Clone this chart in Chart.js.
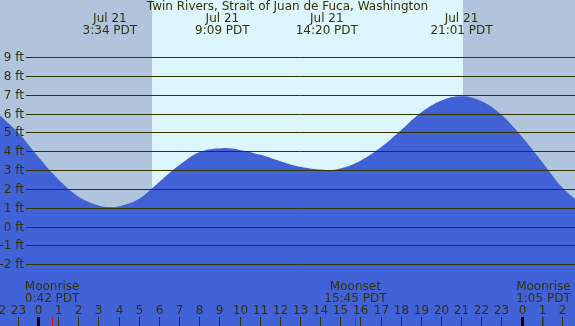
<!DOCTYPE html>
<html>
<head>
<meta charset="utf-8">
<script src="https://cdn.jsdelivr.net/npm/chart.js@4"></script>
<style>
html,body{margin:0;padding:0;background:#b0c4de;}
canvas{display:block;}
</style>
</head>
<body>
<canvas id="c" width="575" height="326"></canvas>
<script>
// ---- data ----
const title = 'Twin Rivers, Strait of Juan de Fuca, Washington';
// hours since midnight Jul 21 (PDT), tide height in feet
const tideHours = [-1.89, -1, 0, 1, 2, 3, 3.567, 4, 5, 6, 7, 8, 9.15, 10, 11, 12, 13, 14.333, 15, 16, 17, 18, 19, 20, 21.017, 22, 23, 24, 25, 26, 26.65];
const tideFeet  = [5.9, 5.0, 3.72, 2.52, 1.6, 1.12, 1.04, 1.07, 1.47, 2.35, 3.25, 3.95, 4.16, 4.07, 3.82, 3.48, 3.17, 3.0, 3.08, 3.5, 4.2, 5.1, 6.04, 6.68, 6.92, 6.66, 5.93, 4.78, 3.46, 2.1, 1.47];
const extremeHours  = [3.567, 9.15, 14.333, 21.017];
const extremeDates  = ['Jul 21', 'Jul 21', 'Jul 21', 'Jul 21'];
const extremeTimes  = ['3:34 PDT', '9:09 PDT', '14:20 PDT', '21:01 PDT'];
const yTickValues   = [-2, -1, 0, 1, 2, 3, 4, 5, 6, 7, 8, 9];
const moonHours     = [0.7, 15.75, 25.083];
const moonNames     = ['Moonrise', 'Moonset', 'Moonrise'];
const moonTimes     = ['0:42 PDT', '15:45 PDT', '1:05 PDT'];
const midnightHours = [0, 24];
const sunriseHour = 5.66;
const sunsetHour  = 21.1;
const xMin = -1.886, xMax = 26.65;
const yMin = -5.27, yMax = 12.02;

// ---- styles ----
const FONT = '12px "DejaVu Sans"';
const TEXT = '#333300';
const NIGHT = '#b0c4de';
const DAY = '#ddf6fd';
const WATER = '#4161d6';

const decor = {
  id: 'decor',
  beforeDraw(chart) {
    const ctx = chart.ctx, xs = chart.scales.x;
    ctx.save();
    ctx.fillStyle = NIGHT;
    ctx.fillRect(0, 0, chart.width, chart.height);
    const a = Math.round(xs.getPixelForValue(sunriseHour));
    const b = Math.round(xs.getPixelForValue(sunsetHour));
    ctx.fillStyle = DAY;
    ctx.fillRect(a, 0, b - a, chart.height);
    ctx.restore();
  },
  afterDatasetsDraw(chart) {
    const ctx = chart.ctx, xs = chart.scales.x, ys = chart.scales.y;
    ctx.save();
    ctx.font = FONT;
    ctx.fillStyle = TEXT;
    ctx.strokeStyle = TEXT;
    ctx.lineWidth = 1;
    ctx.textBaseline = 'middle';
    ctx.textAlign = 'right';
    yTickValues.forEach(v => {
      const y = Math.round(ys.getPixelForValue(v)) + 0.5;
      ctx.beginPath();
      ctx.moveTo(26, y);
      ctx.lineTo(chart.width, y);
      ctx.stroke();
      ctx.fillText(v + ' ft', 24, y);
    });
    ctx.textAlign = 'center';
    ctx.fillText(title, chart.width / 2, 7);
    extremeHours.forEach((h, i) => {
      const x = xs.getPixelForValue(h);
      ctx.fillText(extremeDates[i], x, 18.5);
      ctx.fillText(extremeTimes[i], x, 31);
    });
    for (let h = Math.ceil(xMin) - 1; h <= Math.floor(xMax) + 1; h++) {
      const x = Math.round(xs.getPixelForValue(h)) + 0.5;
      ctx.beginPath();
      ctx.moveTo(x, 317);
      ctx.lineTo(x, chart.height);
      ctx.stroke();
      ctx.fillText(String(((h % 24) + 24) % 24), x, 310.5);
    }
    ctx.fillStyle = '#000000';
    midnightHours.forEach(h => {
      const x = Math.round(xs.getPixelForValue(h));
      ctx.fillRect(x - 1, 317, 3, chart.height - 317);
    });
    moonHours.forEach((h, i) => {
      const x = xs.getPixelForValue(h);
      const px = Math.round(x) + 0.5;
      ctx.strokeStyle = '#ff0000';
      ctx.beginPath();
      ctx.moveTo(px, 317);
      ctx.lineTo(px, chart.height);
      ctx.stroke();
      ctx.fillStyle = TEXT;
      ctx.fillText(moonNames[i], x, 287);
      ctx.fillText(moonTimes[i], x, 299);
    });
    ctx.restore();
  }
};

new Chart(document.getElementById('c'), {
  type: 'line',
  data: {
    datasets: [{
      data: tideHours.map((h, i) => ({ x: h, y: tideFeet[i] })),
      fill: 'start',
      backgroundColor: WATER,
      borderColor: WATER,
      borderWidth: 0,
      pointRadius: 0,
      tension: 0.4
    }]
  },
  options: {
    responsive: false,
    animation: false,
    layout: { padding: 0 },
    plugins: { legend: { display: false }, tooltip: { enabled: false } },
    scales: {
      x: { type: 'linear', min: xMin, max: xMax, display: false },
      y: { min: yMin, max: yMax, display: false }
    }
  },
  plugins: [decor]
});
</script>
</body>
</html>
